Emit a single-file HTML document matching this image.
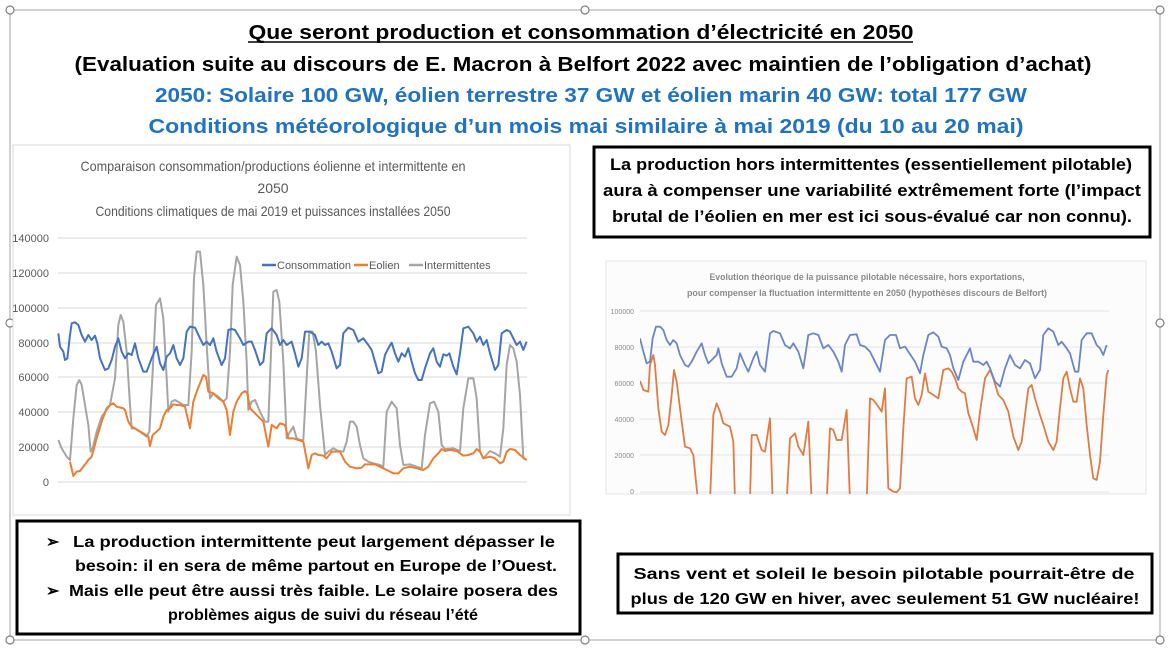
<!DOCTYPE html>
<html><head><meta charset="utf-8"><style>
html,body{margin:0;padding:0;background:#fff;}
svg{display:block;font-family:"Liberation Sans",sans-serif;}
</style></head><body>
<svg width="1170" height="652" viewBox="0 0 1170 652">
<defs>
<clipPath id="cr"><rect x="640" y="308" width="470" height="186"/></clipPath>
</defs>
<rect x="10" y="10" width="1150" height="630" fill="#fff" stroke="#a6a6a6" stroke-width="1"/>
<g fill="#fff" stroke="#7f7f7f" stroke-width="1.2">
<circle cx="10" cy="10" r="4"/><circle cx="585" cy="10" r="4"/><circle cx="1160" cy="10" r="4"/>
<circle cx="10" cy="323" r="4"/><circle cx="1160" cy="323" r="4"/>
<circle cx="10" cy="640" r="4"/><circle cx="585" cy="640" r="4"/><circle cx="1160" cy="640" r="4"/>
</g>
<g font-weight="bold" font-size="20" text-anchor="middle">
<text x="581" y="39" textLength="665" lengthAdjust="spacingAndGlyphs" fill="#000">Que seront production et consommation d’électricité en 2050</text>
<line x1="248" y1="42" x2="913" y2="42" stroke="#000" stroke-width="1.5"/>
<text x="583" y="71" textLength="1017" lengthAdjust="spacingAndGlyphs" fill="#000">(Evaluation suite au discours de E. Macron à Belfort 2022 avec maintien de l’obligation d’achat)</text>
<text x="591" y="102" textLength="872" lengthAdjust="spacingAndGlyphs" fill="#1f72c4">2050: Solaire 100 GW, éolien terrestre 37 GW et éolien marin 40 GW: total 177 GW</text>
<text x="586" y="133" textLength="875" lengthAdjust="spacingAndGlyphs" fill="#1f72c4">Conditions météorologique d’un mois mai similaire à mai 2019 (du 10 au 20 mai)</text>
</g>
<!-- left chart -->
<rect x="13" y="145" width="557" height="370" fill="#fff" stroke="#d9d9d9"/>
<g fill="#595959" font-size="14" text-anchor="middle">
<text x="273" y="171" textLength="385" lengthAdjust="spacingAndGlyphs">Comparaison consommation/productions éolienne et intermittente en</text>
<text x="273" y="193">2050</text>
<text x="273" y="216" textLength="355" lengthAdjust="spacingAndGlyphs">Conditions climatiques de mai 2019 et puissances installées 2050</text>
</g>
<g stroke="#d9d9d9" stroke-width="1">
<line x1="58" y1="238" x2="527" y2="238"/><line x1="58" y1="273" x2="527" y2="273"/><line x1="58" y1="308" x2="527" y2="308"/><line x1="58" y1="343" x2="527" y2="343"/><line x1="58" y1="377" x2="527" y2="377"/><line x1="58" y1="412" x2="527" y2="412"/><line x1="58" y1="447" x2="527" y2="447"/><line x1="58" y1="482" x2="527" y2="482"/>
</g>
<g fill="#595959" font-size="11" text-anchor="end">
<text x="49" y="242">140000</text><text x="49" y="277">120000</text><text x="49" y="312">100000</text><text x="49" y="347">80000</text><text x="49" y="381">60000</text><text x="49" y="416">40000</text><text x="49" y="451">20000</text><text x="49" y="486">0</text>
</g>
<g font-size="11" fill="#595959">
<line x1="262" y1="265" x2="276" y2="265" stroke="#4472c4" stroke-width="2.5"/><text x="277" y="269">Consommation</text>
<line x1="354" y1="265" x2="368" y2="265" stroke="#ed7d31" stroke-width="2.5"/><text x="369" y="269">Eolien</text>
<line x1="409" y1="265" x2="423" y2="265" stroke="#a5a5a5" stroke-width="2.5"/><text x="424" y="269">Intermittentes</text>
</g>
<g transform="translate(10,145) scale(0.33333)" fill="none" stroke-width="2" stroke-linejoin="round">
<polyline vector-effect="non-scaling-stroke" stroke="#a5a5a5" points="145,885 155,910 170,935 180,945 190,820 200,720 208,705 215,720 225,780 235,840 242,920 248,910 260,860 275,815 290,795 300,780 315,700 325,540 332,510 340,530 350,620 360,780 365,850 375,850 390,860 410,875 418,860 428,680 438,480 450,460 460,520 470,700 475,800 485,770 495,765 520,780 535,780 545,620 552,400 560,320 570,320 580,420 590,600 600,760 610,745 625,755 640,770 650,760 660,620 668,420 680,335 690,360 700,470 710,650 715,795 725,770 735,765 750,800 765,830 775,830 782,650 790,440 800,435 808,470 820,650 830,880 840,860 850,845 860,880 870,885 880,885 890,700 898,560 908,560 918,620 930,780 945,930 955,920 970,910 985,918 1000,920 1010,890 1020,830 1030,830 1040,845 1050,900 1060,940 1075,950 1090,955 1110,960 1120,965 1130,800 1145,770 1160,790 1170,900 1180,960 1200,958 1220,965 1235,970 1245,870 1260,775 1272,770 1285,800 1295,900 1305,912 1330,910 1350,918 1360,790 1375,700 1390,700 1400,760 1410,920 1420,940 1440,918 1455,925 1470,935 1480,850 1490,660 1500,600 1510,610 1520,650 1530,750 1540,940 1550,945"/>
<polyline vector-effect="non-scaling-stroke" stroke="#ed7d31" points="180,950 190,993 200,980 210,978 220,965 235,945 245,935 260,880 275,830 290,790 300,780 310,775 320,785 340,790 345,795 355,830 365,845 400,865 415,875 420,903 428,870 440,860 450,850 460,815 470,795 480,790 490,778 500,780 510,780 525,785 540,850 550,770 560,740 570,715 580,690 588,695 595,740 610,745 625,760 640,770 650,795 660,870 670,800 680,770 695,745 705,738 712,745 720,790 735,805 760,830 775,905 785,840 800,850 810,835 825,840 835,880 850,880 880,890 895,970 905,930 915,925 925,930 940,932 950,940 965,920 990,920 1005,950 1020,965 1040,970 1055,968 1065,958 1080,958 1095,958 1110,965 1130,975 1150,985 1165,985 1180,970 1200,965 1220,970 1240,975 1255,965 1270,940 1285,925 1295,912 1305,918 1320,915 1340,918 1360,932 1375,930 1390,925 1400,912 1410,920 1420,940 1440,935 1455,940 1470,955 1480,950 1490,920 1500,912 1515,915 1530,930 1550,945"/>
<polyline vector-effect="non-scaling-stroke" stroke="#4472c4" points="145,565 150,605 160,620 165,645 172,640 180,570 185,535 195,532 205,540 215,570 225,590 235,570 245,585 255,572 262,595 270,640 285,675 295,670 305,645 315,605 325,580 335,620 345,640 355,625 365,630 375,595 385,640 400,680 410,680 425,640 440,605 450,655 460,675 470,635 480,625 490,600 500,640 510,660 520,640 530,560 540,545 555,548 570,580 580,600 590,590 600,600 610,580 620,620 635,660 645,640 655,555 665,552 675,555 690,580 700,600 715,590 725,590 735,615 750,660 760,650 770,565 785,550 800,570 810,600 820,585 830,600 845,590 855,625 865,665 875,640 885,560 900,560 915,570 925,600 935,590 945,600 955,595 965,620 980,670 990,660 1000,565 1015,548 1030,555 1045,590 1060,580 1075,600 1085,615 1095,650 1105,685 1115,680 1125,630 1135,610 1145,593 1155,625 1165,650 1175,625 1185,635 1195,610 1205,650 1215,685 1225,705 1235,705 1245,670 1260,625 1270,610 1280,650 1290,665 1300,628 1310,632 1318,625 1330,665 1340,688 1350,625 1360,550 1375,545 1390,565 1400,590 1410,575 1420,600 1430,585 1440,625 1455,675 1465,660 1475,565 1490,555 1500,560 1510,580 1520,600 1530,590 1540,615 1550,590"/>
</g>
<!-- right top box -->
<rect x="594" y="147" width="556" height="90" fill="#fff" stroke="#000" stroke-width="3"/>
<g font-weight="bold" font-size="16.5" text-anchor="middle" fill="#000">
<text x="871" y="170" textLength="522" lengthAdjust="spacingAndGlyphs">La production hors intermittentes (essentiellement pilotable)</text>
<text x="872" y="196" textLength="538" lengthAdjust="spacingAndGlyphs">aura à compenser une variabilité extrêmement forte (l’impact</text>
<text x="872" y="222" textLength="520" lengthAdjust="spacingAndGlyphs">brutal de l’éolien en mer est ici sous-évalué car non connu).</text>
</g>
<!-- right chart -->
<rect x="606" y="261" width="540" height="233" fill="#fcfcfc" stroke="#e6e6e6"/>
<g fill="#8a8a8a" font-size="9.5" text-anchor="middle" font-weight="bold">
<text x="867" y="280" textLength="315" lengthAdjust="spacingAndGlyphs">Evolution théorique de la puissance pilotable nécessaire, hors exportations,</text>
<text x="867" y="296" textLength="360" lengthAdjust="spacingAndGlyphs">pour compenser la fluctuation intermittente en 2050 (hypothèses discours de Belfort)</text>
</g>
<g stroke="#e3e3e3" stroke-width="1">
<line x1="640" y1="311" x2="1109" y2="311"/><line x1="640" y1="347" x2="1109" y2="347"/><line x1="640" y1="383" x2="1109" y2="383"/><line x1="640" y1="419" x2="1109" y2="419"/><line x1="640" y1="455" x2="1109" y2="455"/><line x1="640" y1="492" x2="1109" y2="492"/>
</g>
<g fill="#8a8a8a" font-size="7" text-anchor="end">
<text x="634" y="314">100000</text><text x="634" y="350">80000</text><text x="634" y="386">60000</text><text x="634" y="422">40000</text><text x="634" y="458">20000</text><text x="634" y="494">0</text>
</g>
<g clip-path="url(#cr)">
<g transform="translate(600,255) scale(0.33333)" fill="none" stroke-width="1.8" stroke-linejoin="round">
<polyline vector-effect="non-scaling-stroke" stroke="#e07b45" points="120,378 130,405 145,410 150,330 160,300 165,330 175,460 185,530 195,540 205,510 215,420 222,345 230,380 240,460 255,575 270,580 280,600 290,700 295,740 330,740 340,480 350,445 360,470 370,505 390,515 400,560 405,740 450,740 455,540 470,540 485,585 495,590 510,490 518,740 560,740 570,550 585,535 595,575 610,600 625,500 635,740 680,740 690,520 700,525 710,555 725,555 740,465 750,740 800,740 810,430 820,435 835,455 845,470 855,400 865,700 880,710 890,712 900,700 910,520 920,370 935,365 945,430 955,450 965,420 975,355 985,410 1000,420 1015,430 1030,345 1045,340 1055,350 1065,370 1075,400 1085,410 1095,415 1105,475 1120,520 1130,555 1140,470 1155,370 1170,345 1180,370 1195,420 1210,435 1225,470 1240,545 1255,585 1265,560 1275,480 1285,400 1295,390 1305,430 1320,480 1330,510 1345,560 1360,585 1370,560 1380,460 1390,370 1400,350 1410,400 1420,440 1430,440 1440,370 1450,400 1460,510 1470,600 1480,670 1490,675 1500,620 1510,480 1520,360 1525,345"/>
<polyline vector-effect="non-scaling-stroke" stroke="#6a86c8" points="120,250 130,290 140,325 150,320 158,250 168,215 180,215 190,225 200,255 210,270 220,255 230,265 240,300 255,330 265,335 275,320 290,290 305,265 315,300 325,325 340,310 350,300 355,280 365,325 380,365 395,365 410,340 420,295 435,330 445,350 460,310 470,290 480,330 495,350 510,235 520,228 540,235 555,270 570,280 580,265 595,290 610,340 625,240 640,235 655,240 670,280 685,270 700,290 715,320 725,350 735,270 750,240 770,238 780,270 795,275 810,290 825,320 840,350 855,255 870,240 888,240 900,280 915,275 925,290 945,320 960,355 970,300 985,240 1000,232 1015,245 1025,275 1040,280 1050,300 1060,340 1075,375 1090,320 1110,280 1120,320 1135,320 1150,330 1160,320 1170,340 1185,380 1200,395 1215,340 1230,300 1245,330 1260,340 1275,315 1290,325 1305,370 1320,345 1330,240 1345,220 1360,230 1375,270 1385,260 1400,280 1410,295 1425,350 1435,350 1445,255 1460,235 1475,235 1490,270 1500,280 1510,300 1520,270"/>
</g>
</g>
<!-- bottom left box -->
<rect x="17" y="521" width="563" height="113" fill="#fff" stroke="#000" stroke-width="3"/>
<g font-weight="bold" font-size="16" fill="#000">
<text x="46" y="547">➢</text>
<text x="73" y="547" textLength="482" lengthAdjust="spacingAndGlyphs">La production intermittente peut largement dépasser le</text>
<text x="75" y="571" textLength="482" lengthAdjust="spacingAndGlyphs">besoin: il en sera de même partout en Europe de l’Ouest.</text>
<text x="46" y="596">➢</text>
<text x="69" y="596" textLength="489" lengthAdjust="spacingAndGlyphs">Mais elle peut être aussi très faible. Le solaire posera des</text>
<text x="168" y="620" textLength="310" lengthAdjust="spacingAndGlyphs">problèmes aigus de suivi du réseau l’été</text>
</g>
<!-- bottom right box -->
<rect x="618" y="554" width="534" height="59" fill="#fff" stroke="#000" stroke-width="3"/>
<g font-weight="bold" font-size="16" fill="#000" text-anchor="middle">
<text x="884" y="579" textLength="501" lengthAdjust="spacingAndGlyphs">Sans vent et soleil le besoin pilotable pourrait-être de</text>
<text x="885" y="604" textLength="509" lengthAdjust="spacingAndGlyphs">plus de 120 GW en hiver, avec seulement 51 GW nucléaire!</text>
</g>
</svg>
</body></html>
